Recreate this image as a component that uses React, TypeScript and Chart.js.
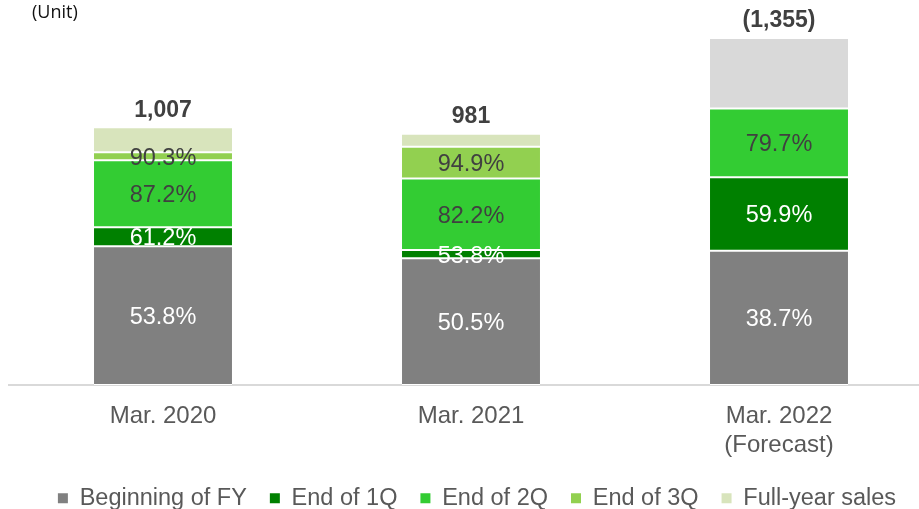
import React, { useEffect, useRef } from "react";
import { Chart, registerables } from "chart.js";

Chart.register(...registerables);

const FONT = '"Liberation Sans", Arial, sans-serif';

// ---- data ----
const categories: string[][] = [["Mar. 2020"], ["Mar. 2021"], ["Mar. 2022", "(Forecast)"]];
const totals = [1007, 981, 1355];
const totalLabels = ["1,007", "981", "(1,355)"];
// cumulative share of full-year sales reached at each point (%)
const beginPct = [53.8, 50.5, 38.7];
const q1Pct = [61.2, 53.8, 59.9];
const q2Pct = [87.2, 82.2, 79.7];
const q3Pct: (number | null)[] = [90.3, 94.9, null];
const seriesNames = ["Beginning of FY", "End of 1Q", "End of 2Q", "End of 3Q", "Full-year sales"];
const seriesColors = ["#808080", "#008000", "#33cc33", "#92d050", "#d8e4bc"];
const forecastColor = "#d9d9d9";
const labelColors = ["#ffffff", "#ffffff", "#404040", "#404040"];

const cumulative: (number | null)[][] = [beginPct, q1Pct, q2Pct, q3Pct];

function buildSegments(): number[][] {
  const out: number[][] = [[], [], [], [], []];
  for (let i = 0; i < totals.length; i++) {
    let prev = 0;
    for (let s = 0; s < 4; s++) {
      const p = cumulative[s][i];
      if (p == null) {
        out[s].push(0);
        continue;
      }
      out[s].push((totals[i] * (p - prev)) / 100);
      prev = p;
    }
    out[4].push((totals[i] * (100 - prev)) / 100);
  }
  return out;
}

const labelPlugin = {
  id: "segmentLabels",
  afterLayout(chart: any) {
    if (chart.legend) {
      chart.legend.left += 6;
      chart.legend.right += 6;
    }
  },
  afterDatasetsDraw(chart: any) {
    const ctx = chart.ctx as CanvasRenderingContext2D;
    ctx.save();
    ctx.textAlign = "center";
    ctx.textBaseline = "middle";
    ctx.font = `23.5px ${FONT}`;
    for (let s = 0; s < 4; s++) {
      const meta = chart.getDatasetMeta(s);
      meta.data.forEach((el: any, i: number) => {
        const p = cumulative[s][i];
        if (p == null) return;
        const { x, y, base } = el.getProps(["x", "y", "base"], true);
        ctx.fillStyle = labelColors[s];
        ctx.fillText(p.toFixed(1) + "%", x, (y + base) / 2 + 2);
      });
    }
    const topMeta = chart.getDatasetMeta(4);
    ctx.font = `bold 23px ${FONT}`;
    ctx.fillStyle = "#404040";
    topMeta.data.forEach((el: any, i: number) => {
      const { x, y } = el.getProps(["x", "y"], true);
      ctx.fillText(totalLabels[i], x, y - 17);
    });
    ctx.font = `18px "Open Sans", sans-serif`;
    ctx.fillStyle = "#111111";
    ctx.textAlign = "left";
    ctx.fillText("(Unit)", 32, 13);
    ctx.restore();
  },
};

export default function App() {
  const canvasRef = useRef<HTMLCanvasElement | null>(null);

  useEffect(() => {
    if (!canvasRef.current) return;
    const seg = buildSegments();
    const datasets = seriesNames.map((name, s) => ({
      label: name,
      data: seg[s],
      backgroundColor:
        s === 4
          ? (c: any) => (c.dataIndex === 2 ? forecastColor : seriesColors[4])
          : seriesColors[s],
      borderColor: "#ffffff",
      borderWidth: { top: 1, bottom: 1, left: 0, right: 0 },
      borderSkipped: false as const,
      barPercentage: 1,
      categoryPercentage: 0.448,
    }));

    const chart = new Chart(canvasRef.current, {
      type: "bar",
      data: { labels: categories as any, datasets: datasets as any },
      options: {
        responsive: false,
        animation: false,
        layout: { padding: { left: 9, right: 0, top: 1, bottom: 0 } },
        scales: {
          x: {
            stacked: true,
            offset: true,
            grid: { display: false, drawTicks: false },
            border: { display: true, color: "#d9d9d9", width: 2 },
            ticks: {
              color: "#595959",
              font: { family: FONT, size: 24, lineHeight: 1.2 },
              padding: 17,
              maxRotation: 0,
              autoSkip: false,
            },
            afterFit: (scale: any) => {
              scale.height = 78.5;
            },
          },
          y: { stacked: true, display: false, min: 0, max: 1500 },
        },
        plugins: {
          legend: {
            position: "bottom",
            labels: {
              boxWidth: 10,
              boxHeight: 10,
              padding: 23,
              color: "#595959",
              font: { family: FONT, size: 23.5 },
              generateLabels: (ch: any) =>
                (Chart.defaults.plugins.legend.labels as any)
                  .generateLabels(ch)
                  .map((l: any, i: number) => ({
                    ...l,
                    fillStyle: seriesColors[i],
                    lineWidth: 0,
                    strokeStyle: "rgba(0,0,0,0)",
                  })),
            },
          },
          tooltip: { enabled: false },
        },
      } as any,
      plugins: [labelPlugin],
    });
    return () => chart.destroy();
  }, []);

  return (
    <div
      style={{
        position: "fixed",
        left: 0,
        top: 0,
        width: 919,
        height: 509,
        overflow: "hidden",
        background: "#ffffff",
      }}
    >
      <canvas ref={canvasRef} width={933} height={520} style={{ display: "block" }} />
    </div>
  );
}
